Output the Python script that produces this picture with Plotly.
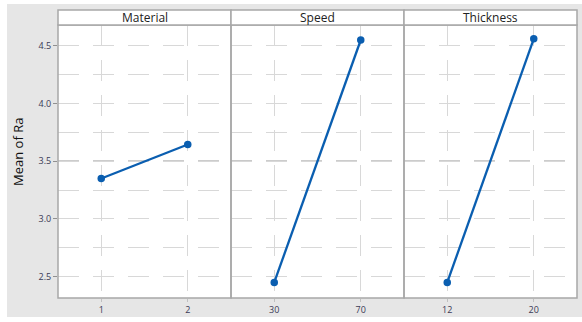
import plotly.graph_objects as go
from plotly.subplots import make_subplots

factors = ["Material", "Speed", "Thickness"]
material_levels = ["1", "2"]
material_means = [3.35, 3.645]
speed_levels = ["30", "70"]
speed_means = [2.45, 4.55]
thickness_levels = ["12", "20"]
thickness_means = [2.45, 4.56]
overall_mean = 3.5
y_tick_vals = [2.5, 3.0, 3.5, 4.0, 4.5]
y_tick_text = ["2.5", "3.0", "3.5", "4.0", "4.5"]

W, H = 582, 322
ML, MR, MT, MB = 58, 5, 25, 24
PW, PH = W - ML - MR, H - MT - MB

def px_x(p):
    return (p - ML) / PW

def px_y(p):
    return (H - MB - p) / PH

levels = [material_levels, speed_levels, thickness_levels]
means = [material_means, speed_means, thickness_means]

fig = make_subplots(rows=1, cols=3, shared_yaxes=True, horizontal_spacing=0)

blue = "#0a5eb0"
grid = "#d8d8d8"
border = "#a8a8a8"
tickfont = dict(family="Open Sans", size=9, color="#3a3a55")

for i in range(3):
    fig.add_trace(go.Scatter(x=levels[i], y=means[i], mode="lines+markers",
                             line=dict(color=blue, width=2.3),
                             marker=dict(color=blue, size=7.5),
                             showlegend=False, hoverinfo="skip"), row=1, col=i + 1)

for i in range(3):
    ax = "x" if i == 0 else f"x{i+1}"
    fig.add_shape(type="line", xref=f"{ax} domain", x0=0, x1=1,
                  yref="y", y0=overall_mean, y1=overall_mean,
                  line=dict(color="#9a9a9a", width=1.5, dash="21px,14px"), layer="below")
    fig.update_xaxes(type="category", categoryorder="array", categoryarray=levels[i],
                     range=[-0.5, 1.5], showgrid=True, gridcolor=grid, gridwidth=1.3,
                     griddash="21px,14px", showline=False, ticks="outside", ticklen=3,
                     tickcolor="#c0c0c0", tickfont=tickfont, zeroline=False,
                     row=1, col=i + 1)
    # panel border
    fig.add_shape(type="rect", xref=f"{ax} domain", x0=0, x1=1, yref="y domain",
                  y0=0, y1=1, fillcolor="rgba(0,0,0,0)",
                  line=dict(color=border, width=1.5), layer="above")
    # strip box
    fig.add_shape(type="rect", xref=f"{ax} domain", x0=0, x1=1, yref="paper",
                  y0=1, y1=1 + 15 / PH, fillcolor="white",
                  line=dict(color=border, width=1.5), layer="above")
    fig.add_annotation(xref=f"{ax} domain", x=0.5, yref="paper", y=1 + 7.5 / PH,
                       text=factors[i], showarrow=False, xanchor="center", yanchor="middle",
                       font=dict(family="Open Sans", size=12, color="#222222"))

fig.update_yaxes(range=[2.315, 4.68], tickvals=y_tick_vals, ticktext=y_tick_text,
                 showgrid=True, gridcolor=grid, gridwidth=1.3, griddash="21px,14px",
                 minor=dict(dtick=0.25, tick0=2.5, showgrid=True, gridcolor=grid,
                            gridwidth=1.3, griddash="21px,14px"),
                 showline=False, zeroline=False, tickfont=tickfont)
fig.update_yaxes(ticks="outside", ticklen=4, tickcolor="#909090", row=1, col=1)

fig.add_annotation(xref="paper", yref="paper", x=px_x(18), y=px_y(152),
                   text="Mean of Ra", textangle=-90, showarrow=False,
                   xanchor="center", yanchor="middle",
                   font=dict(family="Open Sans", size=13, color="#111111"))

# white outer margins
fig.add_shape(type="rect", xref="paper", yref="paper", x0=px_x(0), x1=px_x(7),
              y0=px_y(H), y1=px_y(0), fillcolor="white", line=dict(width=0), layer="above")
fig.add_shape(type="rect", xref="paper", yref="paper", x0=px_x(0), x1=px_x(W),
              y0=px_y(4), y1=px_y(0), fillcolor="white", line=dict(width=0), layer="above")
fig.add_shape(type="rect", xref="paper", yref="paper", x0=px_x(0), x1=px_x(W),
              y0=px_y(H), y1=px_y(317), fillcolor="white", line=dict(width=0), layer="above")

fig.update_layout(width=W, height=H, margin=dict(l=ML, r=MR, t=MT, b=MB),
                  paper_bgcolor="#e6e6e6", plot_bgcolor="white",
                  font=dict(family="Open Sans"))

fig.write_html("out.html", config={"displayModeBar": False},
               post_script="document.body.style.margin='0';document.body.style.overflow='hidden';")
